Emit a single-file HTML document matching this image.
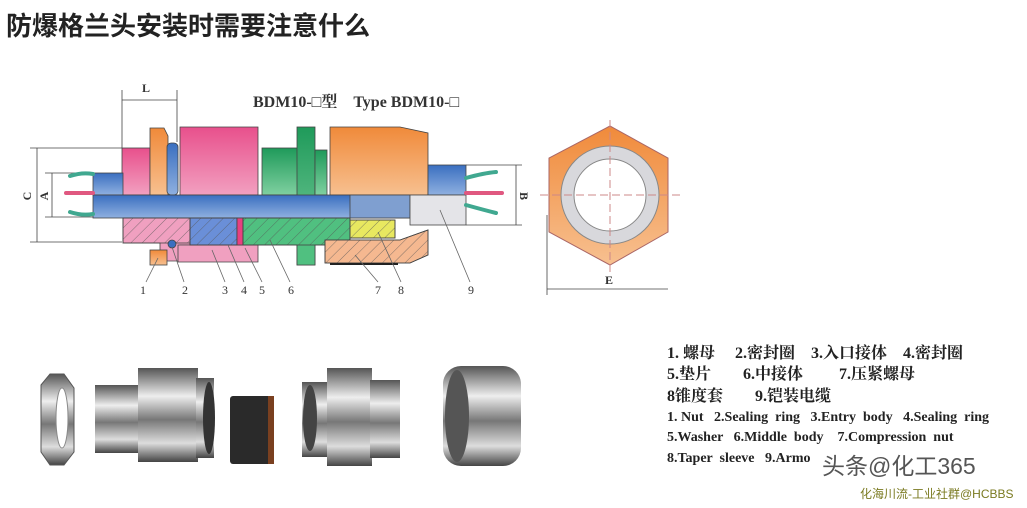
<!DOCTYPE html>
<html><head><meta charset="utf-8"><style>
body{margin:0;background:#fff;width:1027px;height:508px;overflow:hidden;position:relative;font-family:"Liberation Sans","Noto Sans CJK SC",sans-serif}
.t{position:absolute;left:6px;top:6px;font-size:26px;font-weight:bold;color:#222}
.leg{position:absolute;left:667px;font-family:"Liberation Serif","Noto Serif CJK SC",serif;color:#222;white-space:pre;font-weight:bold}
</style></head><body>
<div class="t">防爆格兰头安装时需要注意什么</div>
<svg width="1027" height="508" style="position:absolute;left:0;top:0">
<defs>
<linearGradient id="pk" x1="0" y1="0" x2="0" y2="1"><stop offset="0" stop-color="#e8508c"/><stop offset="1" stop-color="#f2a0c0"/></linearGradient>
<linearGradient id="or" x1="0" y1="0" x2="0" y2="1"><stop offset="0" stop-color="#f08a3a"/><stop offset="1" stop-color="#f7c090"/></linearGradient>
<linearGradient id="gr" x1="0" y1="0" x2="0" y2="1"><stop offset="0" stop-color="#1f9a5a"/><stop offset="1" stop-color="#7fd0a0"/></linearGradient>
<linearGradient id="bl" x1="0" y1="0" x2="0" y2="1"><stop offset="0" stop-color="#3a6fc0"/><stop offset="1" stop-color="#8fb0e0"/></linearGradient>
<linearGradient id="mt" x1="0" y1="0" x2="0" y2="1"><stop offset="0" stop-color="#555"/><stop offset=".3" stop-color="#eee"/><stop offset=".55" stop-color="#777"/><stop offset=".8" stop-color="#ddd"/><stop offset="1" stop-color="#444"/></linearGradient>
<pattern id="h" width="8" height="8" patternUnits="userSpaceOnUse" patternTransform="rotate(45)"><line x1="0" y1="0" x2="0" y2="8" stroke="#555" stroke-width=".7"/></pattern>
</defs>
<g stroke="#444" stroke-width=".8">
<line x1="122" y1="90" x2="122" y2="148"/><line x1="177" y1="90" x2="177" y2="142"/>
<line x1="122" y1="100" x2="177" y2="100"/>
<line x1="30" y1="148" x2="122" y2="148"/><line x1="30" y1="242" x2="122" y2="242"/>
<line x1="37" y1="148" x2="37" y2="242"/>
<line x1="45" y1="173" x2="93" y2="173"/><line x1="45" y1="217" x2="93" y2="217"/>
<line x1="52" y1="173" x2="52" y2="217"/>
<line x1="466" y1="165" x2="522" y2="165"/><line x1="466" y1="225" x2="522" y2="225"/><line x1="516" y1="165" x2="516" y2="225"/>
<rect x="122" y="148" width="28" height="47" fill="url(#pk)"/>
<path d="M150 128h14l4 8v59h-18z" fill="url(#or)"/>
<rect x="167" y="143" width="11" height="52" rx="4" fill="url(#bl)"/>
<path d="M180 127h78v68h-78z" fill="url(#pk)"/>
<rect x="262" y="148" width="38" height="47" fill="url(#gr)"/>
<rect x="297" y="127" width="18" height="138" fill="url(#gr)"/>
<rect x="315" y="150" width="12" height="45" fill="url(#gr)"/>
<path d="M330 127h70l28 6v62h-98z" fill="url(#or)"/>
<rect x="93" y="173" width="30" height="22" fill="url(#bl)"/>
<rect x="428" y="165" width="38" height="30" fill="url(#bl)"/>
<rect x="93" y="195" width="317" height="23" fill="url(#bl)"/>
<rect x="350" y="195" width="60" height="23" fill="#7f9fd0"/>
<rect x="410" y="195" width="56" height="30" fill="#e4e4e8"/>
<path d="M123 218h67v27h-10v16h-20v-18h-37z" fill="#f0a0c0"/>
<rect x="123" y="218" width="67" height="25" fill="url(#h)"/>
<path d="M178 245h80v17h-80z" fill="#f0a0c0"/>
<rect x="190" y="218" width="47" height="27" fill="#6a8fd8"/>
<rect x="190" y="218" width="47" height="27" fill="url(#h)"/>
<rect x="237" y="218" width="6" height="27" fill="#e84080"/>
<path d="M243 218h107v27h-35v20h-18v-20h-54z" fill="#50c080"/>
<rect x="243" y="218" width="107" height="27" fill="url(#h)"/>
<rect x="350" y="220" width="45" height="18" fill="#e8e860"/>
<rect x="350" y="220" width="45" height="18" fill="url(#h)"/>
<path d="M325 240h75l28-10v25l-18 8h-85z" fill="#f5b890"/>
<path d="M325 240h75l28-10v25l-18 8h-85z" fill="url(#h)"/>
<line x1="330" y1="264" x2="398" y2="264" stroke="#222" stroke-width="2"/>
<rect x="150" y="250" width="17" height="15" fill="url(#or)"/>
<circle cx="172" cy="244" r="4" fill="#3a6fc0"/>
<g stroke="#666" fill="none">
<path d="M158 258L146 282M172 247L184 282M212 250L225 282M228 245L244 282M245 248L262 282M270 240L290 282M355 255L378 282M378 232L401 282M440 210L470 282"/>
</g>
</g>
<g stroke-width="4" fill="none" stroke-linecap="round">
<path d="M70 176q12 -4 23 -2M70 212q12 4 23 2" stroke="#40a890"/>
<path d="M66 193h27M466 193h36" stroke="#e05880"/>
<path d="M466 178q18 -5 30 -6M466 205q18 5 30 8" stroke="#40a890"/>
</g>
<g font-family="Liberation Serif,serif" font-size="12" fill="#333" text-anchor="middle">
<text x="146" y="92" font-weight="bold">L</text>
<text x="27" y="200" transform="rotate(-90 27 196)" font-weight="bold">C</text>
<text x="44" y="200" transform="rotate(-90 44 196)" font-weight="bold">A</text>
<text x="524" y="200" transform="rotate(90 524 196)" font-weight="bold">B</text>
<text x="143" y="294">1</text><text x="185" y="294">2</text><text x="225" y="294">3</text><text x="244" y="294">4</text><text x="262" y="294">5</text><text x="291" y="294">6</text><text x="378" y="294">7</text><text x="401" y="294">8</text><text x="471" y="294">9</text>
<text x="609" y="284" font-weight="bold">E</text>
</g>
<text x="253" y="107" font-family="Liberation Serif,'Noto Serif CJK SC',serif" font-size="16" font-weight="bold" fill="#333">BDM10-□型　Type BDM10-□</text>
<polygon points="610,126 668,158 668,232 610,265 549,232 549,158" fill="url(#or)" stroke="#a66" stroke-width="1"/>
<circle cx="610" cy="195" r="49" fill="#d8d8dc" stroke="#888"/>
<circle cx="610" cy="195" r="36" fill="#fff" stroke="#888"/>
<g stroke="#c88" stroke-dasharray="8 4"><line x1="540" y1="195" x2="680" y2="195"/><line x1="610" y1="120" x2="610" y2="272"/></g>
<g stroke="#444" stroke-width=".8"><line x1="547" y1="215" x2="547" y2="295"/><line x1="547" y1="289" x2="668" y2="289"/></g>
<!-- photos -->
<polygon points="41,385 50,374 64,374 74,388 74,452 64,465 50,465 41,452" fill="url(#mt)" stroke="#555"/>
<ellipse cx="62" cy="418" rx="6" ry="30" fill="#fff" stroke="#888"/>
<rect x="95" y="385" width="50" height="68" fill="url(#mt)"/>
<rect x="138" y="368" width="60" height="94" fill="url(#mt)"/>
<rect x="196" y="378" width="18" height="80" fill="url(#mt)"/>
<ellipse cx="209" cy="418" rx="6" ry="36" fill="#333"/>
<rect x="230" y="396" width="42" height="68" fill="#2a2a2a" rx="3"/>
<rect x="268" y="396" width="6" height="68" fill="#7a4020"/>
<rect x="302" y="382" width="30" height="75" fill="url(#mt)"/>
<rect x="327" y="368" width="45" height="98" fill="url(#mt)"/>
<rect x="370" y="380" width="30" height="78" fill="url(#mt)"/>
<ellipse cx="310" cy="418" rx="7" ry="33" fill="#444"/>
<rect x="443" y="366" width="78" height="100" rx="18" fill="url(#mt)"/>
<ellipse cx="457" cy="416" rx="12" ry="46" fill="#555"/>
</svg>
<div class="leg" style="top:340px;font-size:16px">1. 螺母　 2.密封圈　3.入口接体　4.密封圈</div>
<div class="leg" style="top:361px;font-size:16px">5.垫片　　6.中接体　　 7.压紧螺母</div>
<div class="leg" style="top:383px;font-size:16px">8锥度套　　9.铠装电缆</div>
<div class="leg" style="top:410px;font-size:14px">1. Nut   2.Sealing  ring   3.Entry  body   4.Sealing  ring</div>
<div class="leg" style="top:430px;font-size:14px">5.Washer   6.Middle  body    7.Compression  nut</div>
<div class="leg" style="top:451px;font-size:14px">8.Taper  sleeve   9.Armo</div>
<div style="position:absolute;left:822px;top:447px;font-size:23px;color:#555;">头条@化工365</div>
<div style="position:absolute;left:860px;top:485px;font-size:12px;color:#7a7a20;">化海川流-工业社群@HCBBS</div>
</body></html>
